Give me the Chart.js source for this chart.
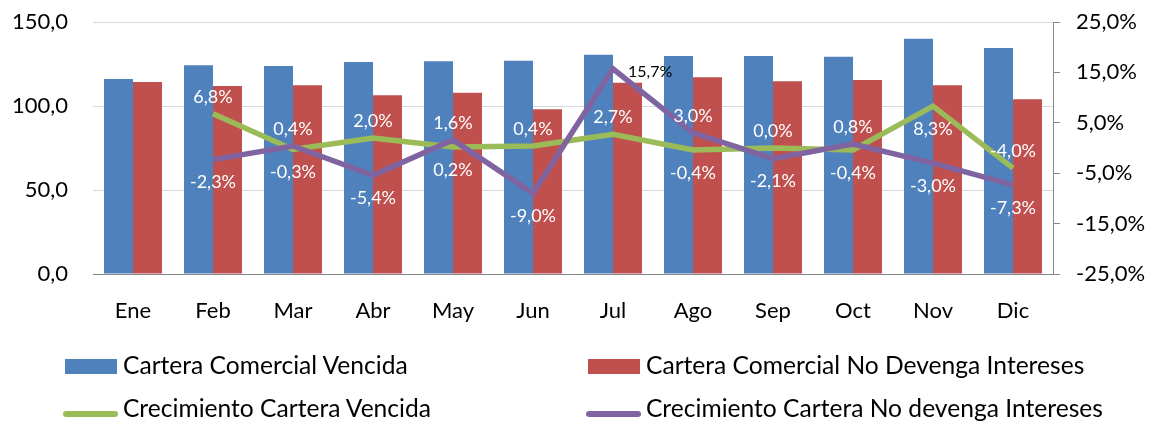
<!DOCTYPE html>
<html>
<head>
<meta charset="utf-8">
<script src="https://cdn.jsdelivr.net/npm/chart.js@4/dist/chart.umd.min.js"></script>
<style>
  html, body { margin: 0; padding: 0; background: #fff; }
  #wrap { position: relative; width: 1156px; height: 425px; overflow: hidden; font-family: Lato, sans-serif; }
  #chart { position: absolute; left: 0; top: 0; }
  .lg-box { position: absolute; width: 52px; height: 15px; }
  .lg-line { position: absolute; width: 55px; height: 6px; border-radius: 3px; }
  .lg-text { position: absolute; font-size: 24.6px; line-height: 28px; color: #000; white-space: nowrap; }
</style>
</head>
<body>
<div id="wrap">
  <canvas id="chart" width="1156" height="425"></canvas>
  <div id="legend"></div>
</div>
<script>
// datos
var meses = ['Ene', 'Feb', 'Mar', 'Abr', 'May', 'Jun', 'Jul', 'Ago', 'Sep', 'Oct', 'Nov', 'Dic'];
var carteraVencida = [116.1, 124.2, 123.8, 126.2, 126.6, 127.0, 130.5, 129.8, 129.8, 129.3, 140.1, 134.5];
var carteraNoDevenga = [114.3, 111.9, 112.3, 106.4, 107.9, 98.0, 113.9, 117.1, 114.7, 115.5, 112.3, 104.0];
var crecVencida = [null, 6.8, -0.3, 2.0, 0.2, 0.4, 2.7, -0.4, 0.0, -0.4, 8.3, -4.0];
var crecNoDevenga = [null, -2.3, 0.4, -5.4, 1.6, -9.0, 15.7, 3.0, -2.1, 0.8, -3.0, -7.3];

// posicion de etiquetas: a = arriba, b = abajo, r = derecha
var posVencida = [null, 'a', 'b', 'a', 'b', 'a', 'a', 'b', 'a', 'b', 'b', 'a'];
var posNoDevenga = [null, 'b', 'a', 'b', 'a', 'b', 'r', 'a', 'b', 'a', 'b', 'b'];

var _Azul = '#4f81bd', _Rojo = '#c0504d', _Verde = '#9bbb59', _Morado = '#8064a2';

function fmtNum(v) { return v.toFixed(1).replace('.', ','); }

var pctLabels = {
    id: 'pctLabels',
    afterDatasetsDraw: function (chart) {
        var ctx = chart.ctx;
        ctx.save();
        ctx.font = '18px Lato';
        ctx.textBaseline = 'middle';
        chart.data.datasets.forEach(function (ds, i) {
            if (!ds.labelPos) return;
            var meta = chart.getDatasetMeta(i);
            meta.data.forEach(function (pt, j) {
                var v = ds.data[j];
                if (v == null) return;
                var pos = ds.labelPos[j];
                var txt = fmtNum(v) + '%';
                if (pos == 'r') {
                    ctx.textAlign = 'left';
                    ctx.fillStyle = '#000';
                    ctx.font = '16px Lato';
                    ctx.fillText(txt, pt.x + 15, pt.y + 3);
                    ctx.font = '18px Lato';
                } else {
                    ctx.textAlign = 'center';
                    ctx.fillStyle = '#fff';
                    ctx.fillText(txt, pt.x, pos == 'a' ? pt.y - 17 : pt.y + 23);
                }
            });
        });
        ctx.restore();
    }
};

function fixVertical(w) {
    return function (s) {
        s.width = w;
        s.paddingTop = 0;
        s.paddingBottom = 0;
    };
}

var chart = new Chart(document.getElementById('chart'), {
    type: 'bar',
    data: {
        labels: meses,
        datasets: [
            { type: 'line', label: 'Crecimiento Cartera No devenga Intereses', data: crecNoDevenga, yAxisID: 'y1',
              borderColor: _Morado, backgroundColor: _Morado, borderWidth: 5.5, pointRadius: 0, tension: 0,
              order: 0, labelPos: posNoDevenga },
            { type: 'line', label: 'Crecimiento Cartera Vencida', data: crecVencida, yAxisID: 'y1',
              borderColor: _Verde, backgroundColor: _Verde, borderWidth: 5.5, pointRadius: 0, tension: 0,
              order: 1, labelPos: posVencida },
            { label: 'Cartera Comercial Vencida', data: carteraVencida, yAxisID: 'y',
              backgroundColor: _Azul, categoryPercentage: 0.725, barPercentage: 1.0, order: 2 },
            { label: 'Cartera Comercial No Devenga Intereses', data: carteraNoDevenga, yAxisID: 'y',
              backgroundColor: _Rojo, categoryPercentage: 0.725, barPercentage: 1.0, order: 3 }
        ]
    },
    options: {
        responsive: false,
        animation: false,
        layout: { padding: { top: 22, bottom: 91, left: 0, right: 0 } },
        plugins: { legend: { display: false }, tooltip: { enabled: false } },
        scales: {
            x: {
                grid: { display: false },
                border: { display: true, color: '#868686', width: 1 },
                ticks: { color: '#000', font: { family: 'Lato', size: 22 }, padding: 16 },
                afterFit: function (s) { s.height = 60; s.paddingLeft = 0; s.paddingRight = 0; }
            },
            y: {
                position: 'left', min: 0, max: 150,
                grid: { color: '#d9d9d9', drawTicks: false },
                border: { display: false },
                ticks: { stepSize: 50, color: '#000', font: { family: 'Lato', size: 22 }, padding: 25,
                         callback: function (v) { return fmtNum(v); } },
                afterFit: fixVertical(93)
            },
            y1: {
                position: 'right', min: -25, max: 25,
                grid: { drawOnChartArea: false, color: '#868686', tickLength: 7 },
                border: { display: true, color: '#868686', width: 1 },
                ticks: { stepSize: 10, color: '#000', font: { family: 'Lato', size: 22 }, padding: 16,
                         callback: function (v) { return fmtNum(v) + '%'; } },
                afterFit: fixVertical(103)
            }
        }
    },
    plugins: [pctLabels]
});

// leyenda en dos columnas
var legendItems = [
    { text: 'Cartera Comercial Vencida', color: _Azul, kind: 'box', x: 65, y: 359 },
    { text: 'Cartera Comercial No Devenga Intereses', color: _Rojo, kind: 'box', x: 588, y: 359 },
    { text: 'Crecimiento Cartera Vencida', color: _Verde, kind: 'line', x: 63, y: 411 },
    { text: 'Crecimiento Cartera No devenga Intereses', color: _Morado, kind: 'line', x: 586, y: 411 }
];
var lg = document.getElementById('legend');
legendItems.forEach(function (it) {
    var m = document.createElement('div');
    m.className = it.kind == 'box' ? 'lg-box' : 'lg-line';
    m.style.left = it.x + 'px';
    m.style.top = it.y + 'px';
    m.style.background = it.color;
    lg.appendChild(m);
    var t = document.createElement('div');
    t.className = 'lg-text';
    t.textContent = it.text;
    t.style.left = (it.x + (it.kind == 'box' ? 58 : 60)) + 'px';
    t.style.top = (it.kind == 'box' ? it.y - 8 : it.y - 17) + 'px';
    lg.appendChild(t);
});
</script>
</body>
</html>
